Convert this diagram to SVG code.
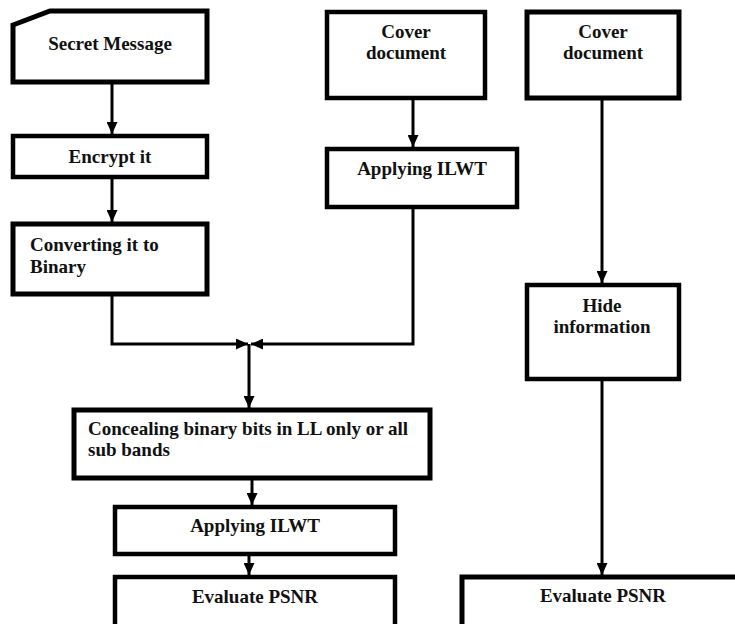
<svg xmlns="http://www.w3.org/2000/svg" width="735" height="624" viewBox="0 0 735 624">
  <style>
    .box { fill: #ffffff; stroke: #000000; stroke-width: 4.5; }
    .thick { stroke-width: 5; }
    .lbl { font-family: "Liberation Serif", "Times New Roman", serif; font-weight: bold; font-size: 19px; fill: #111111; }
    .mid { text-anchor: middle; }
    .conn { fill: none; stroke: #000000; stroke-width: 3; }
  </style>
  <defs>
    <marker id="arrow" markerUnits="userSpaceOnUse" markerWidth="12" markerHeight="11" refX="12" refY="5.5" orient="auto">
      <path d="M0,0 L12,5.5 L0,11 Z" fill="#000000"/>
    </marker>
  </defs>
  <rect width="735" height="624" fill="#ffffff"/>

  <g id="connectors">
    <path class="conn" d="M112,82 V134" marker-end="url(#arrow)"/>
    <path class="conn" d="M112,177 V222" marker-end="url(#arrow)"/>
    <path class="conn" d="M413,98 V147" marker-end="url(#arrow)"/>
    <path class="conn" d="M602,98 V283" marker-end="url(#arrow)"/>
    <path class="conn" d="M112,294 V344 H248" marker-end="url(#arrow)"/>
    <path class="conn" d="M413,207 V344 H251" marker-end="url(#arrow)"/>
    <path class="conn" d="M249,344 V408" marker-end="url(#arrow)"/>
    <path class="conn" d="M252,478 V505" marker-end="url(#arrow)"/>
    <path class="conn" d="M249,548 V575" marker-end="url(#arrow)"/>
    <path class="conn" d="M602,379 V575" marker-end="url(#arrow)"/>
  </g>

  <g id="secret-message">
    <path class="box thick" d="M13,25 L50,11 L207,11 L207,82 L13,82 Z"/>
    <text class="lbl mid" x="110" y="50">Secret Message</text>
  </g>

  <g id="encrypt">
    <rect class="box" x="13" y="136" width="194" height="41"/>
    <text class="lbl mid" x="110" y="163">Encrypt it</text>
  </g>

  <g id="convert">
    <rect class="box thick" x="13" y="224" width="194" height="70"/>
    <text class="lbl" x="30" y="251">Converting it to</text>
    <text class="lbl" x="30" y="273">Binary</text>
  </g>

  <g id="cover-1">
    <rect class="box" x="327" y="12" width="158" height="86"/>
    <text class="lbl mid" x="406" y="38">Cover</text>
    <text class="lbl mid" x="406" y="59">document</text>
  </g>

  <g id="ilwt-1">
    <rect class="box" x="327" y="149" width="190" height="58"/>
    <text class="lbl mid" x="422" y="175">Applying ILWT</text>
  </g>

  <g id="cover-2">
    <rect class="box thick" x="527" y="12" width="152" height="86"/>
    <text class="lbl mid" x="603" y="38">Cover</text>
    <text class="lbl mid" x="603" y="59">document</text>
  </g>

  <g id="hide">
    <rect class="box" x="527" y="285" width="152" height="94"/>
    <text class="lbl mid" x="602" y="312">Hide</text>
    <text class="lbl mid" x="602" y="333">information</text>
  </g>

  <g id="conceal">
    <rect class="box thick" x="74" y="410" width="356" height="68"/>
    <text class="lbl" x="88" y="435">Concealing binary bits in LL only or all</text>
    <text class="lbl" x="88" y="456">sub bands</text>
  </g>

  <g id="ilwt-2">
    <rect class="box" x="115" y="507" width="280" height="47"/>
    <text class="lbl mid" x="255" y="532">Applying ILWT</text>
  </g>

  <g id="evaluate-1">
    <rect class="box" x="115" y="577" width="280" height="70"/>
    <text class="lbl mid" x="255" y="603">Evaluate PSNR</text>
  </g>

  <g id="evaluate-2">
    <rect class="box thick" x="462" y="577" width="282" height="70"/>
    <text class="lbl mid" x="603" y="602">Evaluate PSNR</text>
  </g>
</svg>
